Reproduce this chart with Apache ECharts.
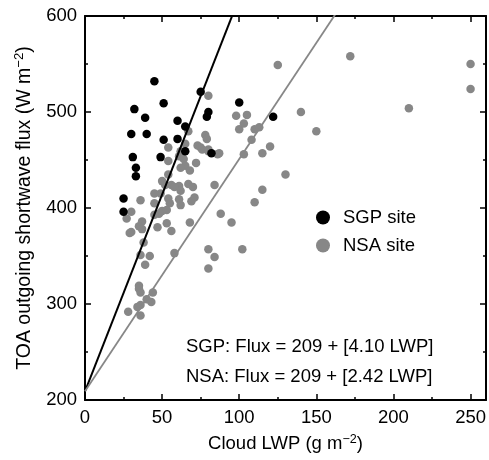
<!DOCTYPE html>
<html>
<head>
<meta charset="utf-8">
<script src="https://cdn.jsdelivr.net/npm/echarts@6/dist/echarts.min.js"></script>
<style>html,body{margin:0;padding:0;background:#fff}#c{width:489px;height:460px}</style>
</head>
<body>
<div id="c"></div>
<script>
// ---- data ----
const sgpLWP  = [45,75,51,32,39,80,79,60,65,30,40,51,60,65,82,31,49,33,33,25,25,100,122];
const sgpFlux = [532,521,509,503,494,500,495,491,485,477,477,471,472,459,457,453,453,442,433,410,396,510,495];

const nsaLWP  = [80,67,78,79,73,75,80,86,54,65,62,54,61,64,65,62,68,72,54,50,56,52,61,58,67,70,62,49,45,84,
                 45,54,55,53,61,62,69,71,50,48,45,36,30,27,37,35,30,47,53,56,68,29,37,38,36,42,39,58,80,84,
                 80,35,35,36,44,40,43,36,34,28,36,125,172,250,250,210,140,150,98,105,100,103,110,113,108,120,103,115,76,80,
                 87,130,115,110,88,95,102];
const nsaFlux = [517,480,476,472,465,463,461,456,463,467,459,449,454,451,444,442,439,447,435,428,424,424,423,422,425,422,418,415,415,424,
                 405,410,405,398,409,403,407,411,397,394,393,408,396,389,386,381,375,380,384,376,385,374,378,364,351,350,341,353,357,349,
                 337,319,316,312,312,305,302,299,297,292,288,549,558,550,524,504,500,480,496,497,482,488,482,484,471,464,456,457,461,459,
                 457,435,419,406,394,385,357];

const intercept = 209;
const slopeSGP = 4.10;
const slopeNSA = 2.42;
const xTicksMajor = [0, 50, 100, 150, 200, 250];
const seriesNames = ['SGP site', 'NSA site'];
const fitLabels = ['SGP: Flux = 209 + [4.10 LWP]', 'NSA: Flux = 209 + [2.42 LWP]'];

const XMIN = 0, XMAX = 260, YMIN = 200, YMAX = 600;
const FONT = "'Liberation Sans', Arial, Helvetica, sans-serif";
const FS = 18.5;

function pts(xs, ys){ return xs.map((x,i)=>[x, ys[i]]); }
function fitLine(slope){ return [[XMIN, intercept + slope*XMIN],[XMAX, intercept + slope*XMAX]]; }

const chart = echarts.init(document.getElementById('c'), null, {renderer:'canvas'});

function supRich(fs){ return {sup:{fontSize:fs*0.68, fontFamily:FONT, verticalAlign:'top', lineHeight:22, color:'#000'}}; }

function xAx(pos, interval, tickLen, labels, line){
  return {
    type:'value', position: pos, min: XMIN, max: XMAX, interval: interval,
    axisLine:{show: line, onZero:false, lineStyle:{color:'#000', width:2}},
    axisTick:{show:true, inside:true, length: tickLen, lineStyle:{color:'#000', width:1.5}},
    axisLabel:{show: labels, color:'#000', fontSize:FS, fontFamily:FONT, margin:8,
      formatter: v => (xTicksMajor.indexOf(v) >= 0 ? String(v) : '')},
    splitLine:{show:false},
    name: (labels ? 'Cloud LWP (g m{sup|−2})' : ''),
    nameLocation:'middle', nameGap: 33,
    nameTextStyle:{color:'#000', fontSize:FS, fontFamily:FONT, lineHeight:22, rich: supRich(FS)}
  };
}
function yAx(pos, labels){
  return {
    type:'value', position: pos, min: YMIN, max: YMAX, interval: 100,
    axisLine:{show:true, onZero:false, lineStyle:{color:'#000', width:2}},
    axisTick:{show:true, inside:true, length:6, lineStyle:{color:'#000', width:1.5}},
    minorTick:{show:true, splitNumber:2, length:3, lineStyle:{color:'#000', width:1.5}},
    axisLabel:{show: labels, color:'#000', fontSize:FS, fontFamily:FONT, margin:8},
    splitLine:{show:false},
    name: (labels ? 'TOA outgoing shortwave flux (W m{sup|−2})' : ''),
    nameLocation:'middle', nameGap: 48, nameRotate: 90,
    nameTextStyle:{color:'#000', fontSize:19.5, fontFamily:FONT, lineHeight:22, rich: supRich(19.5)}
  };
}

const option = {
  backgroundColor:'#fff',
  animation:false,
  textStyle:{fontFamily:FONT},
  grid:{left:85, right:1, top:16, bottom:54, containLabel:false},
  xAxis:[
    xAx('bottom', 25, 3, true, true),
    xAx('bottom', 50, 6, false, false),
    xAx('top', 25, 3, false, true),
    xAx('top', 50, 6, false, false)
  ],
  yAxis:[ yAx('left', true), yAx('right', false) ],
  legend:{
    orient:'vertical', left:311, top:203, itemWidth:30, itemHeight:14, itemGap:9,
    icon:'circle', data: seriesNames,
    textStyle:{color:'#000', fontSize:FS, fontFamily:FONT}
  },
  graphic:[
    {type:'text', x:186, y:347, style:{text: fitLabels[0], fill:'#000', fontSize:FS, fontFamily:FONT, verticalAlign:'middle'}},
    {type:'text', x:186, y:377, style:{text: fitLabels[1], fill:'#000', fontSize:FS, fontFamily:FONT, verticalAlign:'middle'}}
  ],
  series:[
    {name: seriesNames[1], type:'scatter', data: pts(nsaLWP, nsaFlux), symbolSize:8.5,
     itemStyle:{color:'#878787', opacity:1}, z:2},
    {name: seriesNames[0], type:'scatter', data: pts(sgpLWP, sgpFlux), symbolSize:8.5,
     itemStyle:{color:'#000', opacity:1}, z:3},
    {type:'line', data: fitLine(slopeSGP), showSymbol:false, symbol:'none', clip:true,
     lineStyle:{color:'#000', width:2}, z:4, silent:true},
    {type:'line', data: fitLine(slopeNSA), showSymbol:false, symbol:'none', clip:true,
     lineStyle:{color:'#878787', width:1.8}, z:4, silent:true}
  ]
};
chart.setOption(option);
</script>
</body>
</html>
